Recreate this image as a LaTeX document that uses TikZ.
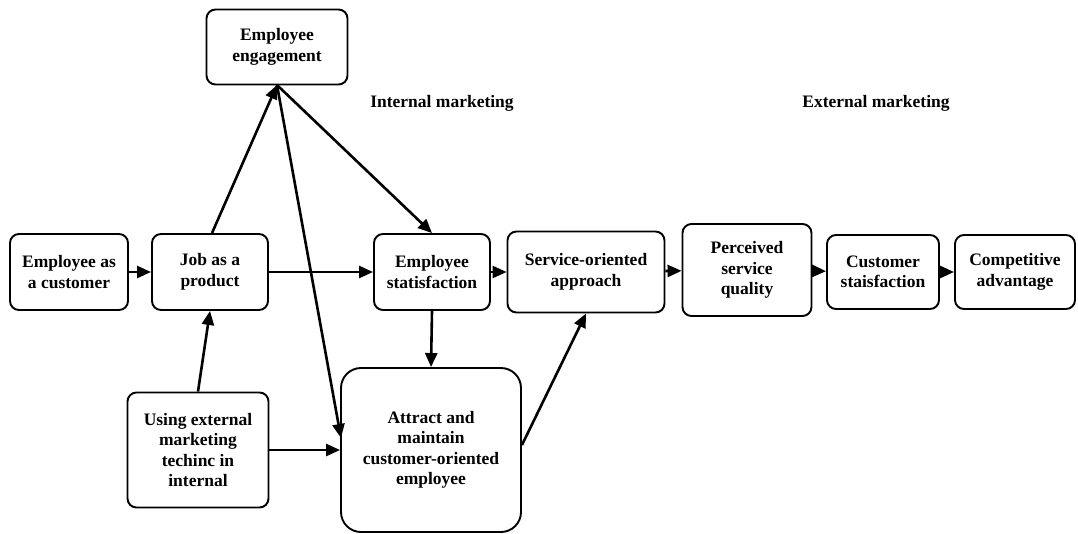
\documentclass[tikz,border=0pt]{standalone}
\usepackage{fontspec}
\setmainfont{Liberation Serif}
\usetikzlibrary{arrows.meta}
\begin{document}
\begin{tikzpicture}[x=1pt,y=-1pt,
  box/.style={draw,line width=1.9pt,rounded corners=9pt,align=center,
    font=\bfseries\fontsize{17.5}{20.5}\selectfont,inner sep=0pt},
  link/.style={line width=2.6pt,-{Triangle[length=14pt,width=12pt]}},
  title/.style={font=\bfseries\fontsize{17.5}{20.5}\selectfont}]
\useasboundingbox (0,0) rectangle (1078,533);
% boxes
\node[box,minimum width=118pt,minimum height=76pt] (cust) at (69,272) {Employee as\\a customer};
\node[box,minimum width=116pt,minimum height=76pt] (job) at (210,272) {Job as a\\product};
\node[box,minimum width=141pt,minimum height=75pt] (eng) at (277,47) {Employee\\engagement};
\node[box,minimum width=116pt,minimum height=76pt] (sat) at (432,272) {Employee\\statisfaction};
\node[box,minimum width=157pt,minimum height=81pt] (serv) at (586,272) {Service-oriented\\approach};
\node[box,minimum width=129pt,minimum height=92pt] (perc) at (747,270) {Perceived\\service\\quality};
\node[box,minimum width=112pt,minimum height=74pt] (csat) at (883,272) {Customer\\staisfaction};
\node[box,minimum width=120pt,minimum height=74pt] (comp) at (1015,272) {Competitive\\advantage};
\node[box,minimum width=141pt,minimum height=115pt] (using) at (198,450) {Using external\\marketing\\techinc in\\internal};
\node[box,minimum width=180pt,minimum height=164pt,rounded corners=20pt] (attr) at (431,450) {Attract and\\maintain\\customer-oriented\\employee};
% section titles
\node[title] (intm) at (442,103) {Internal marketing};
\node[title] (extm) at (876,103) {External marketing};
% connectors
\draw[link] (cust) -- (job);
\draw[link] (job) -- (sat);
\draw[link] (sat) -- (serv);
\draw[link] (serv) -- (perc);
\draw[link] (perc) -- (csat);
\draw[link] (csat) -- (comp);
\coordinate (engb) at (277,85);
\draw[link] (job.north) ++(2,0) coordinate (jobt) -- (engb);
\draw[link] (using.north) -- (job.south);
\draw[link] (engb) -- (sat.north);
\draw[link] (engb) -- (341,438) coordinate (attrl);
\draw[link] (sat.south) -- (attr.north);
\draw[link] (using.east) -- (attr.west);
\draw[link] (attr.east) ++(0,-5) coordinate (attre) -- (serv.south);
\end{tikzpicture}
\end{document}
